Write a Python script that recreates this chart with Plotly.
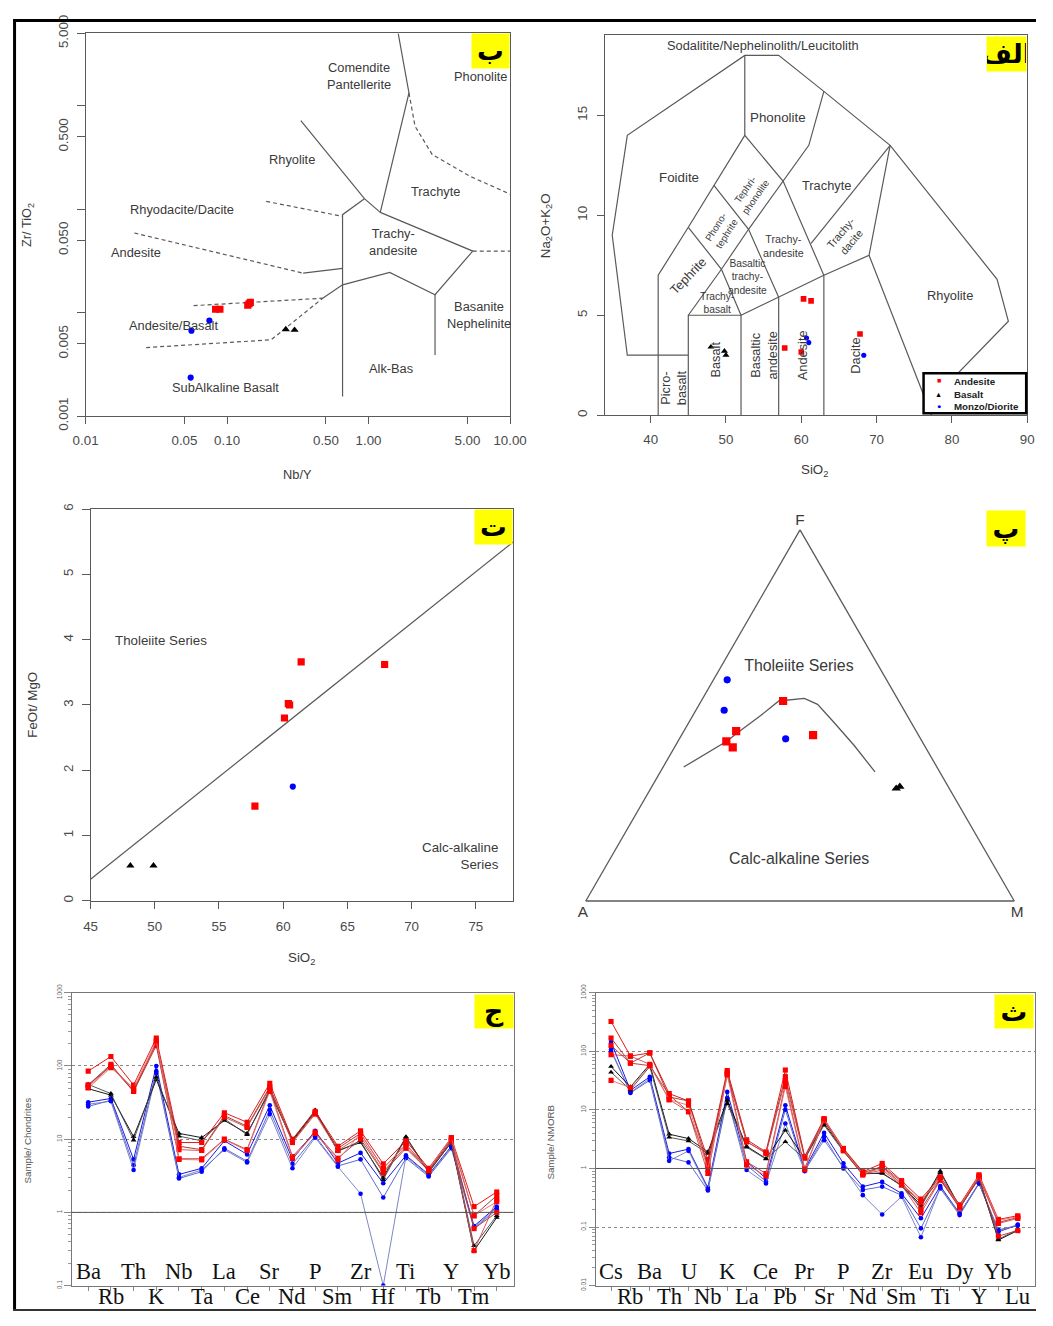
import math
import plotly.graph_objects as go

W, H = 1053, 1326
# the photograph shrinks the page slightly about its centre; place everything so that it lands on target
K = 1 / 0.975
CX, CY = W / 2, H / 2
def TX(v): return CX + (v - CX) * K
def TY(v): return CY + (v - CY) * K
def px(v): return TX(v) / W
def py(v): return 1 - TY(v) / H
def fs(s): return s * K
def clamp(f): return min(1.0, max(0.0, f))

GRAY = '#5a5a5a'
TXT = '#3a3a3a'
SANS = 'Liberation Sans, Arial, sans-serif'
SERIF = 'Liberation Serif, Times New Roman, serif'
ARAB = 'DejaVu Sans, Noto Sans, sans-serif'
RED, BLACK, BLUE = '#ff0000', '#000000', '#0000ff'

# ---------------- Panel ب : Zr/TiO2 vs Nb/Y ----------------
p1_andesite_nby = [0.083, 0.089, 0.140, 0.146, 0.143]
p1_andesite_zrti = [0.0108, 0.0108, 0.0118, 0.0126, 0.0122]
p1_basalt_nby = [0.26, 0.30]
p1_basalt_zrti = [0.0069, 0.0068]
p1_monzo_nby = [0.075, 0.056, 0.0553]
p1_monzo_zrti = [0.0084, 0.0067, 0.00236]

p1_solid_lines = [
    ([1.62, 1.93, 1.21], [5.0, 1.33, 0.0933]),
    ([0.332, 0.935, 1.21], [0.72, 0.1265, 0.0933]),
    ([0.935, 0.655, 0.655], [0.1265, 0.0886, 0.00155]),
    ([1.21, 5.45, 2.95, 1.41, 0.655, 0.474], [0.0933, 0.0394, 0.0149, 0.0245, 0.0186, 0.0138]),
    ([2.95, 2.95], [0.0149, 0.0039]),
    ([0.345, 0.655], [0.0241, 0.0268]),
]
p1_dashed_lines = [
    ([1.93, 2.13, 2.82, 5.21, 10.0], [1.33, 0.634, 0.337, 0.208, 0.140]),
    ([5.45, 10.0], [0.0394, 0.0394]),
    ([0.189, 0.655], [0.119, 0.0853]),
    ([0.0221, 0.345], [0.0589, 0.0241]),
    ([0.058, 0.474], [0.0117, 0.0138]),
    ([0.0268, 0.205, 0.474], [0.0046, 0.00547, 0.0138]),
]
p1_labels = [
    ('Comendite<br>Pantellerite', 0.85, 1.95, 'center'),
    ('Phonolite', 9.9, 1.93, 'right'),
    ('Rhyolite', 0.29, 0.30, 'center'),
    ('Trachyte', 2.99, 0.149, 'center'),
    ('Rhyodacite/Dacite', 0.048, 0.099, 'center'),
    ('Trachy-<br>andesite', 1.49, 0.048, 'center'),
    ('Andesite', 0.0227, 0.0385, 'center'),
    ('Basanite<br>Nephelinite', 3.48, 0.0095, 'left'),
    ('Andesite/Basalt', 0.042, 0.0076, 'center'),
    ('Alk-Bas', 1.45, 0.0029, 'center'),
    ('SubAlkaline Basalt', 0.098, 0.0019, 'center'),
]
p1_xticks = [0.01, 0.05, 0.1, 0.5, 1, 5, 10]
p1_xticktext = ['0.01', '0.05', '0.10', '0.50', '1.00', '5.00', '10.00']
p1_yticks = [0.001, 0.005, 0.05, 0.5, 5]
p1_yticktext = ['0.001', '0.005', '0.050', '0.500', '5.000']
p1_yminor = [0.01, 0.1, 1]

# ---------------- Panel الف : TAS ----------------
tas_andesite_sio2 = [60.3, 61.3, 57.8, 60.0, 67.8]
tas_andesite_alk = [5.82, 5.72, 3.36, 3.16, 4.06]
tas_basalt_sio2 = [48.0, 49.8, 50.0]
tas_basalt_alk = [3.41, 3.2, 3.0]
tas_monzo_sio2 = [60.7, 61.0, 68.3]
tas_monzo_alk = [3.86, 3.63, 3.0]

tas_lines = [
    ([45, 36.9, 34.9, 36.9, 52.5, 57, 63, 71.8, 86, 87.5, 76.7], [3, 3, 9, 14, 18, 18, 16.2, 13.5, 6.8, 4.7, 0.5]),
    ([41, 41, 45, 48.4, 52.5, 57.6, 63, 63], [0, 7, 9.4, 11.5, 14, 11.7, 7, 0]),
    ([45, 45, 52, 52], [0, 5, 5, 0]),
    ([45, 49.4, 52], [9.4, 7.3, 5]),
    ([45, 49.4, 53, 57.6, 61, 63], [5, 7.3, 9.3, 11.7, 13.5, 16.2]),
    ([48.4, 53, 57], [11.5, 9.3, 5.9]),
    ([52, 57, 63, 69, 71.8], [5, 5.9, 7, 8, 13.5]),
    ([57, 57], [0, 5.9]),
    ([52.5, 52.5], [14, 18]),
    ([61.3, 71.8], [8.6, 13.5]),
    ([69, 77.3], [8, 0]),
]
tas_labels = [
    ('Sodalitite/Nephelinolith/Leucitolith', 54.9, 18.5, 12.5, 0),
    ('Phonolite', 56.9, 14.9, 13, 0),
    ('Foidite', 43.8, 11.9, 13, 0),
    ('Tephri-<br>phonolite', 53.25, 11.14, 9.5, -55),
    ('Trachyte', 63.3, 11.5, 12.5, 0),
    ('Phono-<br>tephrite', 49.3, 9.23, 9.5, -58),
    ('Trachy-<br>andesite', 57.7, 8.45, 10.5, 0),
    ('Trachy-<br>dacite', 66.0, 8.9, 10.5, -50),
    ('Tephrite', 45.0, 7.0, 12.5, -46),
    ('Basaltic<br>trachy-<br>andesite', 52.8, 6.93, 10, 0),
    ('Trachy-<br>basalt', 48.8, 5.62, 10, 0),
    ('Rhyolite', 79.8, 6.0, 12.5, 0),
    ('Picro-<br>basalt', 43.1, 1.4, 12.5, -90),
    ('Basalt', 48.6, 2.8, 12.5, -90),
    ('Basaltic<br>andesite', 55.1, 3.0, 12.5, -90),
    ('Andesite', 60.1, 3.0, 12.5, -90),
    ('Dacite', 67.2, 3.0, 12.5, -90),
]
legend_names = ['Andesite', 'Basalt', 'Monzo/Diorite']
legend_symbols = ['■', '▲', '●']
legend_colors = [RED, BLACK, BLUE]

# ---------------- Panel ت : FeOt/MgO vs SiO2 ----------------
fm_andesite_sio2 = [61.4, 67.9, 60.4, 60.5, 60.1, 57.8]
fm_andesite_ratio = [3.66, 3.62, 3.02, 3.00, 2.80, 1.45]
fm_basalt_sio2 = [48.1, 49.9]
fm_basalt_ratio = [0.54, 0.54]
fm_monzo_sio2 = [60.75]
fm_monzo_ratio = [1.75]
fm_line_sio2 = [45.0, 78.0]
fm_line_ratio = [0.33, 5.51]

# ---------------- Panel پ : AFM ----------------
afm_curve_F = [0.361, 0.430, 0.459, 0.499, 0.539, 0.546, 0.530, 0.481, 0.419, 0.348]
afm_curve_A = [0.591, 0.457, 0.410, 0.343, 0.280, 0.217, 0.194, 0.180, 0.164, 0.151]
afm_curve_M = [0.048, 0.113, 0.131, 0.158, 0.181, 0.237, 0.276, 0.339, 0.417, 0.501]
afm_andesite_F = [0.539, 0.458, 0.430, 0.414, 0.447]
afm_andesite_A = [0.270, 0.420, 0.457, 0.450, 0.246]
afm_andesite_M = [0.191, 0.122, 0.113, 0.136, 0.307]
afm_monzo_F = [0.596, 0.514, 0.437]
afm_monzo_A = [0.372, 0.420, 0.315]
afm_monzo_M = [0.032, 0.066, 0.248]
afm_basalt_F = [0.303, 0.308]
afm_basalt_A = [0.124, 0.113]
afm_basalt_M = [0.573, 0.579]
afm_text = ['Tholeiite Series', 'Calc-alkaline Series']
afm_text_F = [0.631, 0.110]
afm_text_A = [0.187, 0.447]
afm_text_M = [0.182, 0.443]

# ---------------- Panel ج : chondrite-normalised spider ----------------
ch_elements = ['Ba', 'Rb', 'Th', 'K', 'Nb', 'Ta', 'La', 'Ce', 'Sr', 'Nd', 'P', 'Sm', 'Zr', 'Hf', 'Ti', 'Tb', 'Y', 'Tm', 'Yb']
ch_andesite = [
    [85, 135, 55, 240, 9.0, 9.0, 23, 17, 58, 10, 24, 8.0, 13, 4.6, 9.5, 4.0, 10.5, 1.2, 1.9],
    [55, 105, 45, 210, 8.0, 7.2, 21, 15, 52, 9.2, 23, 7.5, 12, 4.0, 8.5, 3.8, 10, 0.9, 1.7],
    [52, 100, 48, 200, 7.2, 7.0, 20, 14.5, 50, 9.0, 22, 7.0, 11, 3.6, 8.0, 3.7, 9.5, 0.3, 1.5],
    [55, 100, 45, 190, 5.4, 5.4, 10, 7.2, 48, 5.8, 12.5, 5.5, 10, 3.5, 7.5, 3.7, 9.5, 0.6, 1.0],
    [50, 95, 50, 220, 5.3, 5.2, 9.8, 7.0, 45, 5.5, 12, 5.2, 12, 4.0, 8.5, 3.9, 10.5, 0.9, 1.4],
]
ch_basalt = [
    [49, 40, 10.8, 65, 12, 10.5, 18, 12, 45, 9.5, 24, 7.0, 9.0, 3.0, 10.8, 3.6, 9.0, 0.3, 0.85],
    [56, 42, 9.7, 70, 11, 9.5, 19, 11.5, 48, 9.8, 25, 6.8, 9.5, 2.8, 10.5, 3.5, 9.2, 0.35, 0.9],
]
ch_monzo = [
    [32, 36, 5.3, 100, 3.3, 4.0, 9.5, 6.2, 29, 5.3, 13, 4.7, 6.5, 2.5, 6.0, 3.3, 8.0, 0.65, 1.2],
    [28, 34, 4.4, 85, 2.9, 3.6, 7.5, 5.0, 25, 4.6, 11, 4.3, 5.3, 1.6, 5.5, 3.1, 7.5, 0.6, 1.1],
    [30, 33, 3.8, 80, 3.0, 3.8, 7.2, 4.8, 22, 4.0, 10.5, 4.2, 1.8, 0.1, 5.8, 3.2, 7.8, 0.62, 1.15],
]

# ---------------- Panel ث : N-MORB-normalised spider ----------------
mo_elements = ['Cs', 'Rb', 'Ba', 'Th', 'U', 'Nb', 'K', 'La', 'Ce', 'Pb', 'Pr', 'Sr', 'P', 'Nd', 'Zr', 'Sm', 'Eu', 'Ti', 'Dy', 'Y', 'Yb', 'Lu']
mo_andesite = [
    [324, 83, 94, 19, 14.2, 1.42, 47, 3.1, 1.92, 48, 1.6, 7.1, 2.2, 0.88, 1.22, 0.62, 0.30, 0.72, 0.24, 0.78, 0.135, 0.156],
    [169, 63, 94, 16.6, 14.2, 1.14, 42, 2.85, 1.85, 37, 1.55, 6.5, 2.15, 0.85, 1.07, 0.55, 0.26, 0.66, 0.23, 0.72, 0.12, 0.145],
    [88, 83, 60, 15, 9.3, 0.82, 39, 2.9, 1.8, 32, 1.5, 6.8, 2.1, 0.80, 0.94, 0.52, 0.175, 0.63, 0.22, 0.70, 0.115, 0.14],
    [126, 63, 57, 18, 9.3, 1.14, 44, 1.3, 0.82, 28, 1.0, 6.5, 2.0, 0.77, 1.1, 0.60, 0.20, 0.65, 0.21, 0.68, 0.07, 0.087],
    [32, 24, 57, 15, 12, 0.95, 40, 1.15, 0.75, 25, 0.95, 7.0, 2.1, 0.82, 1.0, 0.55, 0.28, 0.70, 0.23, 0.75, 0.13, 0.15],
]
mo_basalt = [
    [55, 24.7, 60, 3.85, 3.24, 1.92, 14.6, 2.4, 1.48, 4.5, 1.5, 5.85, 2.05, 0.82, 0.82, 0.52, 0.237, 0.90, 0.22, 0.70, 0.06, 0.087],
    [44, 22, 55, 3.4, 2.95, 1.8, 12.8, 2.3, 1.45, 2.85, 1.45, 5.5, 1.95, 0.80, 0.85, 0.50, 0.22, 0.85, 0.21, 0.68, 0.062, 0.09],
]
mo_monzo = [
    [145, 21.6, 36.6, 1.8, 2.14, 0.47, 20.3, 1.3, 0.68, 12, 0.96, 4.05, 1.22, 0.49, 0.59, 0.375, 0.141, 0.50, 0.17, 0.56, 0.083, 0.108],
    [107, 19.5, 32, 1.55, 1.27, 0.42, 15.5, 1.14, 0.60, 10.1, 0.90, 3.47, 1.0, 0.43, 0.49, 0.35, 0.095, 0.457, 0.16, 0.55, 0.09, 0.105],
    [100, 20, 34, 1.35, 2.0, 0.44, 16, 0.94, 0.555, 5.85, 0.92, 3.04, 1.05, 0.35, 0.164, 0.33, 0.067, 0.47, 0.17, 0.56, 0.085, 0.11],
]
andesite_line_colors = ['#e00000', '#9b2d20', '#d04848', '#b03030', '#f06a6a']
basalt_line_colors = ['#000000', '#454545']
monzo_line_colors = ['#0000e0', '#4a5ac8', '#7078c0']

fig = go.Figure()

def add_lines(xs, ys, xa, ya, dash='solid', width=1.2, color=GRAY):
    fig.add_trace(go.Scatter(x=xs, y=ys, xaxis=xa, yaxis=ya, mode='lines',
                             line=dict(color=color, width=width, dash=dash),
                             hoverinfo='skip', showlegend=False))

def add_pts(xs, ys, xa, ya, symbol, color, size, name):
    fig.add_trace(go.Scatter(x=xs, y=ys, xaxis=xa, yaxis=ya, mode='markers', name=name,
                             marker=dict(symbol=symbol, color=color, size=fs(size), line=dict(width=0)),
                             showlegend=False))

# Panel ب
for xs, ys in p1_solid_lines:
    add_lines(xs, ys, 'x', 'y')
for xs, ys in p1_dashed_lines:
    add_lines(xs, ys, 'x', 'y', dash='4px,3px')
add_pts(p1_monzo_nby, p1_monzo_zrti, 'x', 'y', 'circle', BLUE, 6, 'Monzo/Diorite')
add_pts(p1_basalt_nby, p1_basalt_zrti, 'x', 'y', 'triangle-up', BLACK, 7, 'Basalt')
add_pts(p1_andesite_nby, p1_andesite_zrti, 'x', 'y', 'square', RED, 7, 'Andesite')

# Panel الف
for xs, ys in tas_lines:
    add_lines(xs, ys, 'x2', 'y2')
add_pts(tas_monzo_sio2, tas_monzo_alk, 'x2', 'y2', 'circle', BLUE, 5, 'Monzo/Diorite')
add_pts(tas_basalt_sio2, tas_basalt_alk, 'x2', 'y2', 'triangle-up', BLACK, 6, 'Basalt')
add_pts(tas_andesite_sio2, tas_andesite_alk, 'x2', 'y2', 'square', RED, 5.5, 'Andesite')

# Panel ت
add_lines(fm_line_sio2, fm_line_ratio, 'x3', 'y3')
add_pts(fm_monzo_sio2, fm_monzo_ratio, 'x3', 'y3', 'circle', BLUE, 6, 'Monzo/Diorite')
add_pts(fm_basalt_sio2, fm_basalt_ratio, 'x3', 'y3', 'triangle-up', BLACK, 7, 'Basalt')
add_pts(fm_andesite_sio2, fm_andesite_ratio, 'x3', 'y3', 'square', RED, 7, 'Andesite')

# Panel پ (ternary)
fig.add_trace(go.Scatterternary(a=afm_curve_F, b=afm_curve_A, c=afm_curve_M, mode='lines',
                                line=dict(color=GRAY, width=1.3), hoverinfo='skip', showlegend=False))
fig.add_trace(go.Scatterternary(a=afm_monzo_F, b=afm_monzo_A, c=afm_monzo_M, mode='markers',
                                marker=dict(symbol='circle', color=BLUE, size=fs(7)), showlegend=False))
fig.add_trace(go.Scatterternary(a=afm_andesite_F, b=afm_andesite_A, c=afm_andesite_M, mode='markers',
                                marker=dict(symbol='square', color=RED, size=fs(8)), showlegend=False))
fig.add_trace(go.Scatterternary(a=afm_basalt_F, b=afm_basalt_A, c=afm_basalt_M, mode='markers',
                                marker=dict(symbol='triangle-up', color=BLACK, size=fs(8)), showlegend=False))
fig.add_trace(go.Scatterternary(a=afm_text_F, b=afm_text_A, c=afm_text_M, mode='text', text=afm_text,
                                textfont=dict(family=SANS, size=fs(15.5), color=TXT),
                                hoverinfo='skip', showlegend=False))

# Spider panels
def add_spider(elements, groups, xa, ya):
    for series, colors, symbol, mcol, size in groups:
        for vals, lc in zip(series, colors):
            fig.add_trace(go.Scatter(x=elements, y=vals, xaxis=xa, yaxis=ya, mode='lines+markers',
                                     line=dict(color=lc, width=0.9),
                                     marker=dict(symbol=symbol, color=mcol, size=fs(size), line=dict(width=0)),
                                     showlegend=False))

add_spider(ch_elements, [(ch_monzo, monzo_line_colors, 'circle', BLUE, 4.5),
                         (ch_basalt, basalt_line_colors, 'triangle-up', BLACK, 5),
                         (ch_andesite, andesite_line_colors, 'square', RED, 5)], 'x4', 'y4')
add_spider(mo_elements, [(mo_monzo, monzo_line_colors, 'circle', BLUE, 4.5),
                         (mo_basalt, basalt_line_colors, 'triangle-up', BLACK, 5),
                         (mo_andesite, andesite_line_colors, 'square', RED, 5)], 'x5', 'y5')

# ---------------- layout ----------------
tickfont = dict(family=SANS, size=fs(13), color='#4a4a4a')
def box_axis(**kw):
    d = dict(showline=True, mirror=True, linecolor=GRAY, linewidth=1, ticks='outside', ticklen=fs(7),
             tickcolor=GRAY, tickwidth=1, tickfont=tickfont, showgrid=False, zeroline=False)
    d.update(kw)
    return d

def dom_x(a, b): return [clamp(px(a)), clamp(px(b))]
def dom_y(top, bottom): return [clamp(py(bottom)), clamp(py(top))]

dec_minor = []
for e in range(-3, 3):
    for m in range(2, 10):
        dec_minor.append(m * 10 ** e)

spider_tickfont = dict(family=SANS, size=fs(6.5), color='#666')
layout = dict(
    width=W, height=H, margin=dict(l=0, r=0, t=0, b=0),
    paper_bgcolor='white', plot_bgcolor='white', showlegend=False,
    xaxis=box_axis(domain=dom_x(86, 512), type='log', range=[-2, 1], anchor='y',
                   tickmode='array', tickvals=p1_xticks, ticktext=p1_xticktext, ticklabelstandoff=5),
    yaxis=box_axis(domain=dom_y(31, 414), type='log', range=[-3, math.log10(5)], anchor='x',
                   tickmode='array', tickvals=p1_yticks, ticktext=p1_yticktext, tickangle=-90,
                   ticklabelstandoff=4,
                   minor=dict(tickvals=p1_yminor, ticks='outside', ticklen=fs(7), tickcolor=GRAY,
                              showgrid=False)),
    xaxis2=box_axis(domain=dom_x(607, 1031), range=[33.9, 90], anchor='y2',
                    tickmode='array', tickvals=[40, 50, 60, 70, 80, 90], ticklabelstandoff=5),
    yaxis2=box_axis(domain=dom_y(33, 413), range=[0, 19], anchor='x2',
                    tickmode='array', tickvals=[0, 5, 10, 15], tickangle=-90, ticklabelstandoff=4),
    xaxis3=box_axis(domain=dom_x(91, 515), range=[45, 77.9], anchor='y3',
                    tickmode='array', tickvals=[45, 50, 55, 60, 65, 70, 75], ticklabelstandoff=6),
    yaxis3=box_axis(domain=dom_y(507, 899), range=[0, 6], anchor='x3',
                    tickmode='array', tickvals=[0, 1, 2, 3, 4, 5, 6], tickangle=-90, ticklabelstandoff=4),
    xaxis4=dict(domain=dom_x(72, 515.5), range=[-0.73, 18.74], anchor='y4', type='category',
                showline=True, mirror=True, linecolor='#777', linewidth=1, ticks='outside', ticklen=fs(4),
                tickcolor='#888', showticklabels=False, showgrid=False, zeroline=False),
    yaxis4=dict(domain=dom_y(991, 1284), type='log', range=[-1, 3], anchor='x4',
                showline=True, mirror=True, linecolor='#777', linewidth=1,
                tickmode='array', tickvals=[0.1, 1, 10, 100, 1000], ticktext=['0.1', '1', '10', '100', '1000'],
                tickangle=-90, tickfont=spider_tickfont,
                ticks='outside', ticklen=fs(6), tickcolor='#888',
                showgrid=True, gridcolor='#8a8a8a', griddash='dot', gridwidth=1,
                minor=dict(tickvals=[v for v in dec_minor if 0.1 < v < 1000], ticks='outside', ticklen=fs(3),
                           tickcolor='#999', showgrid=False),
                zeroline=False),
    xaxis5=dict(domain=dom_x(598, 1039), range=[-0.79, 21.9], anchor='y5', type='category',
                showline=True, mirror=True, linecolor='#777', linewidth=1, ticks='outside', ticklen=fs(4),
                tickcolor='#888', showticklabels=False, showgrid=False, zeroline=False),
    yaxis5=dict(domain=dom_y(991, 1284), type='log', range=[-2, 3], anchor='x5',
                showline=True, mirror=True, linecolor='#777', linewidth=1,
                tickmode='array', tickvals=[0.01, 0.1, 1, 10, 100, 1000],
                ticktext=['0.01', '0.1', '1', '10', '100', '1000'],
                tickangle=-90, tickfont=spider_tickfont,
                ticks='outside', ticklen=fs(6), tickcolor='#888',
                showgrid=True, gridcolor='#8a8a8a', griddash='dot', gridwidth=1,
                minor=dict(tickvals=[v for v in dec_minor if 0.01 < v < 1000], ticks='outside', ticklen=fs(3),
                           tickcolor='#999', showgrid=False),
                zeroline=False),
    ternary=dict(domain=dict(x=dom_x(588, 1018), y=dom_y(527, 900)), sum=1, bgcolor='white',
                 aaxis=dict(title=dict(text='F', font=dict(family=SANS, size=fs(15), color=TXT)),
                            showticklabels=False, ticks='', showgrid=False, linecolor=GRAY, linewidth=1.3),
                 baxis=dict(title=dict(text='A', font=dict(family=SANS, size=fs(15), color=TXT)),
                            showticklabels=False, ticks='', showgrid=False, linecolor=GRAY, linewidth=1.3),
                 caxis=dict(title=dict(text='M', font=dict(family=SANS, size=fs(15), color=TXT)),
                            showticklabels=False, ticks='', showgrid=False, linecolor=GRAY, linewidth=1.3)),
)

ann = []
def note(text, x, y, xref, yref, size=13, angle=0, xanchor='center', yanchor='middle', color=TXT,
         family=SANS, **kw):
    d = dict(text=text, x=x, y=y, xref=xref, yref=yref, showarrow=False, textangle=angle,
             xanchor=xanchor, yanchor=yanchor, font=dict(family=family, size=fs(size), color=color))
    d.update(kw)
    ann.append(d)

for t, x, y, anc in p1_labels:
    note(t, math.log10(x), math.log10(y), 'x', 'y', size=12.5, xanchor=anc)
for t, x, y, s, a in tas_labels:
    note(t, x, y, 'x2', 'y2', size=s, angle=a)
note('Tholeiite Series', 50.5, 3.98, 'x3', 'y3', size=13)
note('Calc-alkaline<br>Series', 76.95, 0.68, 'x3', 'y3', size=13, xanchor='right', align='right')

# axis titles
note('Nb/Y', px(299), py(472), 'paper', 'paper', size=12.5)
note('Zr/ TiO<sub>2</sub>', px(28), py(223), 'paper', 'paper', size=12.5, angle=-90)
note('SiO<sub>2</sub>', px(818), py(468), 'paper', 'paper', size=13)
note('Na<sub>2</sub>O+K<sub>2</sub>O', px(548), py(223), 'paper', 'paper', size=13, angle=-90)
note('SiO<sub>2</sub>', px(303), py(957), 'paper', 'paper', size=13)
note('FeOt/ MgO', px(33), py(703), 'paper', 'paper', size=13, angle=-90)
note('Sample/ Chondrites', px(28), py(1139), 'paper', 'paper', size=9.5, angle=-90, color='#555')
note('Sample/ NMORB', px(553), py(1140), 'paper', 'paper', size=9.5, angle=-90, color='#555')

# spider element labels (staggered)
for elements, xr, yr in [(ch_elements, 'x4', 'y4 domain'), (mo_elements, 'x5', 'y5 domain')]:
    for i, el in enumerate(elements):
        if i % 2 == 0:
            note(el, el, 0, xr, yr, size=22, family=SERIF, color='#111', yanchor='bottom')
        else:
            note(el, el, 0, xr, yr, size=22, family=SERIF, color='#111', yanchor='top', yshift=fs(3.5))

# TAS legend (manual box)
leg_rows = [379, 392.5, 404.5]
for name, sym, col, yy in zip(legend_names, legend_symbols, legend_colors, leg_rows):
    note(sym, px(942), py(yy), 'paper', 'paper', size=7, color=col)
    note('<b>%s</b>' % name, px(956), py(yy), 'paper', 'paper', size=9.5, xanchor='left', color='#222')

# yellow panel letters
letters = [('ب', 512, 31, 36, 33), ('الف', 1031, 34, 38, 33), ('ت', 515, 507, 36, 33),
           ('پ', 1030, 508, 37, 34), ('ج', 515.5, 992, 37, 32), ('ث', 1038, 992, 37, 32)]
for t, xr, yt, w, h in letters:
    ann.append(dict(text='<b>%s</b>' % t, x=px(xr), y=py(yt), xref='paper', yref='paper',
                    xanchor='right', yanchor='top', width=fs(w), height=fs(h), bgcolor='#ffff00',
                    borderpad=0, showarrow=False, font=dict(family=ARAB, size=fs(26), color='black')))

shapes = [
    dict(type='line', xref='x4 domain', yref='y4 domain', x0=0, x1=1, y0=0.25, y1=0.25,
         line=dict(color='#555', width=1)),
    dict(type='line', xref='x5 domain', yref='y5 domain', x0=0, x1=1, y0=0.4, y1=0.4,
         line=dict(color='#555', width=1)),
    dict(type='rect', xref='paper', yref='paper', x0=px(927), x1=px(1030), y0=py(411), y1=py(371),
         fillcolor='white', line=dict(color='black', width=2.5), layer='above'),
    # outer frame, as close to the page edge as it can go
    dict(type='line', xref='paper', yref='paper', x0=1.6 / W, x1=1.6 / W, y0=1 - 1.0 / H, y1=0,
         line=dict(color='black', width=3)),
    dict(type='line', xref='paper', yref='paper', x0=0, x1=1, y0=1 - 1.6 / H, y1=1 - 1.6 / H,
         line=dict(color='black', width=3)),
    dict(type='line', xref='paper', yref='paper', x0=0, x1=1, y0=1.0 / H, y1=1.0 / H,
         line=dict(color='#333', width=2)),
]
layout['annotations'] = ann
layout['shapes'] = shapes
fig.update_layout(**layout)
fig.write_html('out.html', config={'displayModeBar': False},
               post_script="document.body.style.margin='0px';document.body.style.padding='0px';"
                           "document.documentElement.style.overflow='hidden';")
